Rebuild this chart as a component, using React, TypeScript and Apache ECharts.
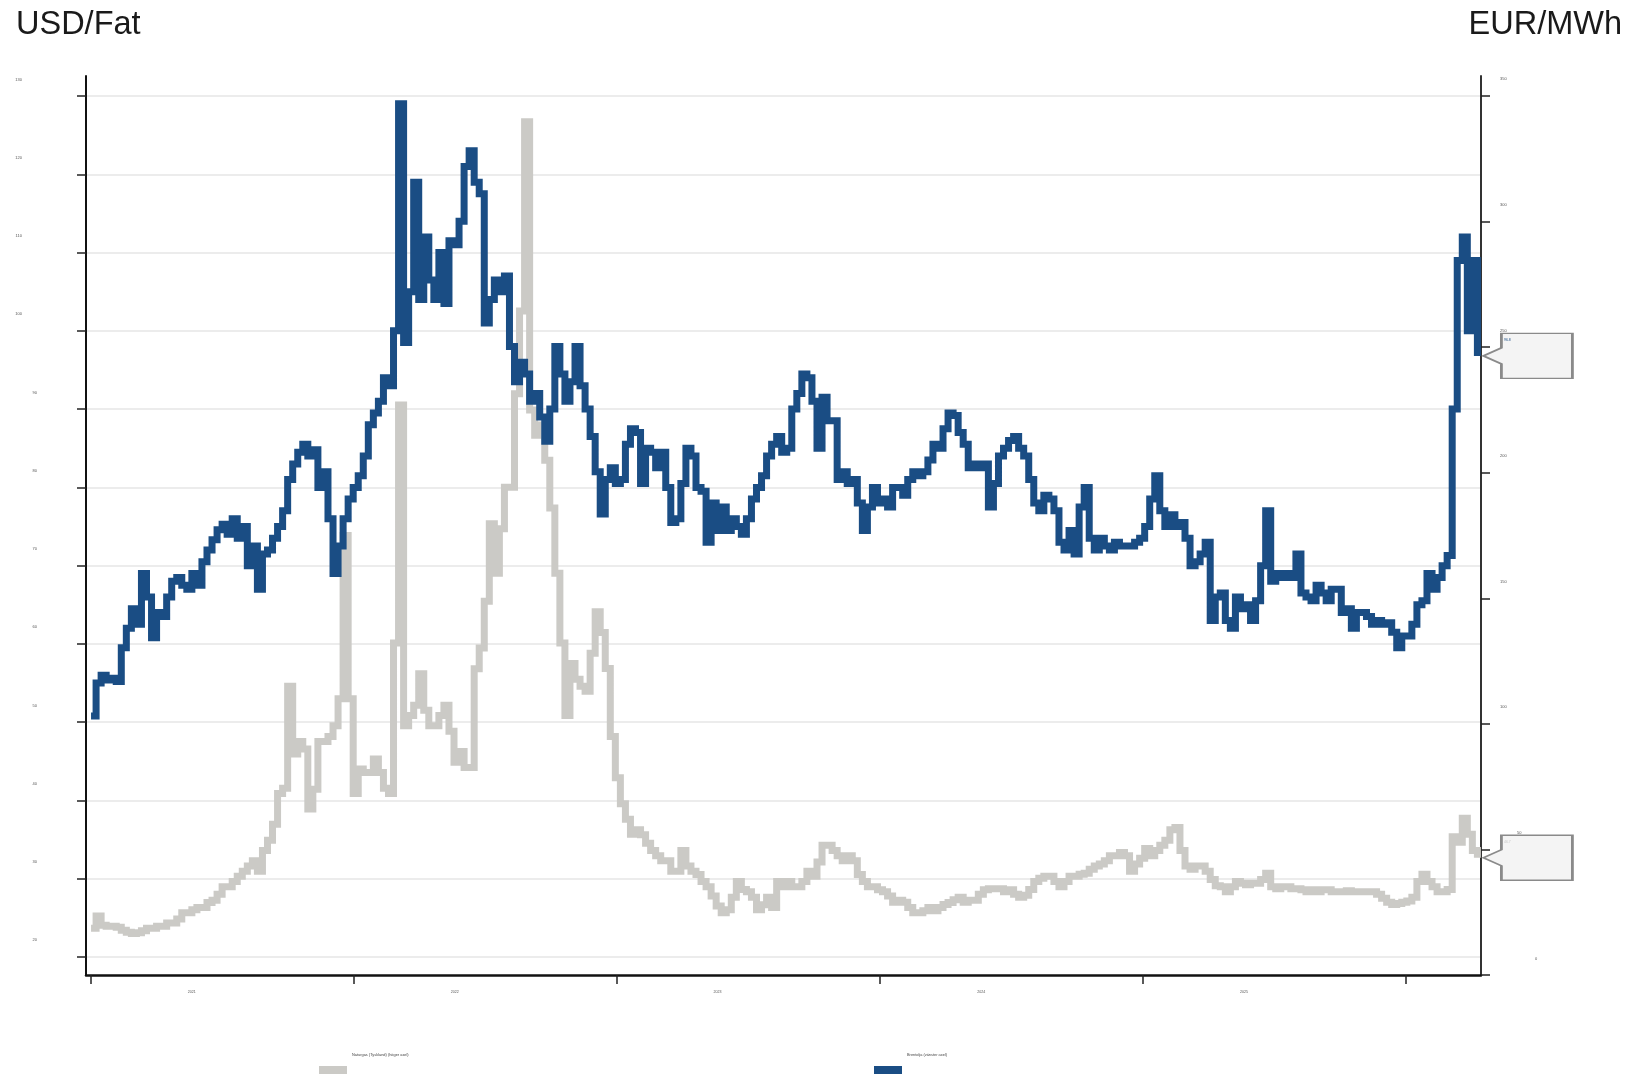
import React, { useEffect, useRef } from "react";
import * as echarts from "echarts";

// ---------- DATA ----------
const START_DATE = "2021-01-01"; // first weekly observation
const STEP_DAYS = 7; // weekly observations

const GAS_NAME = "Naturgas (Tyskland) (höger axel)";
const BRENT_NAME = "Brentolja (vänster axel)";

// Brent, USD per barrel (left axis), weekly
const brentValues = [
  50.8, 55.0, 56.0, 55.4, 55.6, 55.2, 59.5, 62.0, 64.5, 62.5,
  69.0, 66.0, 60.8, 64.0, 63.5, 66.0, 68.0, 68.5, 67.5, 67.0,
  69.0, 67.5, 70.5, 72.0, 73.3, 74.6, 75.3, 74.0, 76.0, 73.5,
  75.0, 70.0, 72.5, 67.0, 71.5, 72.0, 73.5, 75.0, 77.0, 81.0,
  83.0, 84.5, 85.5, 84.0, 84.8, 80.0, 82.0, 76.0, 69.0, 72.5,
  76.0, 78.5, 80.0, 81.5, 84.0, 88.0, 89.5, 91.0, 94.0, 93.0,
  100.0, 129.0, 98.5, 105.0, 119.0, 104.0, 112.0, 106.5, 104.0, 110.0,
  103.5, 111.5, 111.0, 114.0, 121.0, 123.0, 119.0, 117.5, 101.0, 104.0,
  106.5, 105.0, 107.0, 98.0, 93.5, 96.0, 94.5, 91.0, 92.0, 89.0,
  85.9, 90.0, 98.0, 94.5, 91.0, 93.5, 98.0, 93.0, 90.0, 86.5,
  82.0, 76.6, 81.0, 82.5, 80.5, 81.0, 85.5, 87.5, 87.0, 80.5,
  85.0, 84.5, 82.5, 84.5, 80.0, 75.5, 76.0, 80.5, 85.0, 84.0,
  80.0, 79.5, 73.0, 78.0, 74.5, 77.5, 74.5, 76.0, 75.0, 74.0,
  76.0, 78.5, 80.0, 81.5, 84.0, 85.5, 86.5, 84.5, 85.0, 90.0,
  92.0, 94.5, 94.0, 91.0, 85.0, 91.5, 88.5, 88.5, 81.0, 82.0,
  80.5, 81.0, 78.0, 74.5, 77.5, 80.0, 78.0, 78.5, 77.5, 80.0,
  80.0, 79.0, 81.0, 82.0, 81.5, 82.0, 83.5, 85.5, 85.0, 87.5,
  89.5, 89.2, 87.0, 85.5, 82.5, 83.0, 82.5, 83.0, 77.5, 80.5,
  84.0, 85.0, 86.0, 86.5, 85.0, 84.0, 81.0, 78.0, 77.0, 79.0,
  78.5, 77.0, 73.0, 72.0, 74.5, 71.5, 77.5, 80.0, 73.5, 72.0,
  73.5, 72.5, 72.0, 73.0, 72.5, 72.5, 72.5, 73.0, 73.5, 75.0,
  78.5, 81.5, 77.0, 75.0, 76.5, 75.0, 75.5, 73.5, 70.0, 70.5,
  71.5, 73.0, 63.0, 66.0, 66.5, 63.0, 62.0, 66.0, 64.5, 65.0,
  63.0, 65.5, 70.0, 77.0, 68.0, 69.0, 68.5, 69.0, 68.5, 71.5,
  66.5, 66.0, 65.5, 67.5, 66.5, 65.5, 67.0, 67.0, 64.0, 64.5,
  62.0, 64.0, 64.0, 63.5, 62.5, 63.0, 62.5, 62.7, 61.5, 59.5,
  61.0, 61.0, 62.5, 65.0, 65.5, 69.0, 67.0, 68.5, 70.0, 71.3,
  90.0, 109.0, 112.0, 100.0, 109.0, 96.8,
];

// Natural gas (Germany), EUR per MWh (right axis), weekly
const gasValues = [
  18.6, 23.5, 19.8, 19.4, 19.4, 19.0, 17.8, 17.0, 16.5, 16.8,
  17.6, 18.6, 18.6, 19.4, 19.4, 20.7, 20.7, 22.3, 24.8, 24.8,
  26.0, 26.9, 26.9, 28.9, 29.8, 32.2, 35.1, 35.1, 37.2, 39.3,
  41.3, 43.4, 45.5, 41.3, 49.6, 53.7, 60.0, 72.3, 74.4, 115.0,
  88.0, 93.0, 90.0, 66.1, 74.0, 93.0, 93.0, 95.0, 99.2, 110.0,
  175.0, 110.0, 72.3, 82.0, 80.6, 80.6, 86.0, 80.6, 74.4, 72.3,
  132.2, 227.0, 99.2, 103.3, 107.4, 120.0, 105.4, 99.2, 99.2, 103.3,
  107.4, 97.1, 84.7, 89.0, 82.6, 82.6, 121.9, 130.2, 148.8, 179.7,
  160.0, 177.7, 194.2, 194.2, 231.4, 264.4, 339.7, 225.0, 214.9, 219.0,
  205.0, 185.9, 160.0, 132.2, 103.3, 124.0, 117.8, 115.0, 113.0, 128.1,
  144.6, 136.4, 122.0, 95.0, 78.5, 68.2, 62.0, 56.0, 57.8, 55.8,
  52.5, 49.6, 47.5, 45.5, 45.5, 41.3, 41.3, 49.6, 43.4, 41.3,
  40.0, 37.2, 35.1, 31.5, 27.5, 24.8, 26.0, 31.0, 37.2, 34.0,
  33.1, 31.0, 26.0, 28.0, 31.0, 26.9, 37.2, 35.1, 37.2, 35.1,
  35.1, 37.2, 41.3, 39.3, 45.0, 51.7, 51.7, 49.6, 47.5, 45.5,
  47.5, 45.5, 40.0, 37.2, 35.1, 35.1, 33.9, 33.1, 31.5, 29.0,
  29.8, 29.0, 26.9, 24.8, 24.8, 25.6, 26.9, 25.6, 26.9, 28.1,
  28.9, 30.0, 31.0, 29.0, 29.8, 29.8, 32.2, 33.9, 34.3, 34.3,
  34.3, 33.1, 33.9, 32.2, 31.0, 31.8, 34.0, 37.2, 38.5, 39.3,
  39.3, 37.2, 35.1, 37.2, 39.3, 39.3, 40.1, 40.5, 42.1, 43.4,
  44.2, 45.5, 47.5, 47.5, 48.8, 47.5, 41.3, 44.2, 46.5, 50.4,
  47.5, 49.6, 51.7, 53.7, 57.8, 58.7, 49.6, 43.4, 42.1, 43.4,
  43.4, 41.3, 38.0, 35.5, 35.1, 33.1, 35.1, 37.2, 36.5, 35.9,
  36.5, 36.5, 38.0, 40.5, 35.1, 34.3, 35.1, 35.1, 34.3, 34.3,
  33.9, 33.1, 33.9, 33.1, 33.9, 33.9, 33.1, 33.1, 33.1, 33.5,
  33.1, 33.1, 33.1, 33.1, 33.1, 32.2, 30.6, 29.0, 28.1, 28.5,
  29.0, 29.5, 31.0, 37.2, 40.1, 37.2, 35.1, 33.1, 33.1, 34.0,
  55.0, 52.9, 62.4, 56.0, 49.6, 46.7,
];

// Axis ticks
const leftTickValues = [20, 30, 40, 50, 60, 70, 80, 90, 100, 110, 120, 130];
const rightTickValues = [0, 50, 100, 150, 200, 250, 300, 350];
const yearTickDates = ["2021-01-01", "2022-01-01", "2023-01-01", "2024-01-01", "2025-01-01", "2026-01-01"];
const yearLabelDates = ["2021-05-21", "2022-05-21", "2023-05-21", "2024-05-21", "2025-05-21"];
const X_MIN = "2020-12-25";
const X_MAX = "2026-04-15";
const LEFT_MIN = 17.7;
const LEFT_MAX = 132.56;
const RIGHT_MIN = 0;
const RIGHT_MAX = 357.96;

// ---------- STYLE ----------
const BLUE = "#1a4d84";
const GRAY = "#cbcac6";
const FONT = "'Liberation Sans', Arial, Helvetica, sans-serif";
const CALLOUT = "path://M0,22.5 L18,14.5 L18,0 L89,0 L89,45 L18,45 L18,30.5 Z";

const toTs = (s: string) => {
  const [y, m, d] = s.split("-").map(Number);
  return Date.UTC(y, m - 1, d);
};

export default function App() {
  const ref = useRef<HTMLDivElement>(null);

  useEffect(() => {
    document.body.style.margin = "0";
    if (!ref.current) return;
    const chart = echarts.init(ref.current, undefined, { renderer: "svg" });

    const start = toTs(START_DATE);
    const dayMs = 86400000;
    const dateAt = (i: number) => start + i * STEP_DAYS * dayMs;
    const brent = brentValues.map((v, i) => [dateAt(i), v]);
    const gas = gasValues.map((v, i) => [dateAt(i), v]);
    const lastB = brent[brent.length - 1];
    const lastG = gas[gas.length - 1];

    const calloutBase = (color: string) => ({
      symbol: CALLOUT,
      symbolSize: [89, 45],
      symbolOffset: [50.5, 0],
      symbolKeepAspect: false,
      silent: true,
      itemStyle: { color: "#f4f4f4", borderColor: "#8a8a8a", borderWidth: 2 },
      label: {
        show: true,
        position: [22, 5],
        fontSize: 3.5,
        color,
        formatter: (p: any) => Number(p.value).toFixed(1),
      },
    });

    const legendBase = {
      top: 1052,
      padding: 0,
      icon: "rect",
      itemWidth: 28,
      itemHeight: 8,
      itemGap: 0,
      selectedMode: false,
      formatter: (name: string) => `{t|${name}}`,
      textStyle: {
        rich: { t: { fontSize: 3.9, color: "#444", padding: [0, 0, 32, 0] } },
      },
    };

    const option: any = {
      animation: false,
      textStyle: { fontFamily: FONT },
      title: [
        {
          text: "USD/Fat",
          left: 16,
          top: 6,
          padding: 0,
          textStyle: { fontSize: 32.5, fontWeight: "normal", color: "#1a1a1a", fontFamily: FONT },
        },
        {
          text: "EUR/MWh",
          right: 3,
          top: 6,
          padding: 0,
          textStyle: { fontSize: 32.5, fontWeight: "normal", color: "#1a1a1a", fontFamily: FONT },
        },
      ],
      legend: [
        { ...legendBase, data: [GAS_NAME], left: 319 },
        { ...legendBase, data: [BRENT_NAME], left: 874 },
      ],
      grid: { left: 86, right: 144, top: 76, bottom: 101, containLabel: false },
      xAxis: {
        type: "value",
        min: toTs(X_MIN),
        max: toTs(X_MAX),
        axisLine: { show: true, lineStyle: { color: "#111", width: 2.5 } },
        axisTick: {
          show: true,
          length: 9,
          customValues: yearTickDates.map(toTs),
          lineStyle: { color: "#222", width: 1.5 },
        },
        axisLabel: {
          customValues: yearLabelDates.map(toTs),
          formatter: (v: number) => String(new Date(v).getUTCFullYear()),
          fontSize: 3.6,
          color: "#555",
          margin: 15,
        },
        splitLine: { show: false },
        minorTick: { show: false },
      },
      yAxis: [
        {
          type: "value",
          position: "left",
          min: LEFT_MIN,
          max: LEFT_MAX,
          axisLine: { show: true, lineStyle: { color: "#111", width: 2 } },
          axisTick: {
            show: true,
            length: 9,
            customValues: leftTickValues,
            lineStyle: { color: "#222", width: 1.5 },
          },
          axisLabel: {
            customValues: leftTickValues,
            margin: 49,
            formatter: (v: number) => (v >= 100 ? `{w|${v}}` : `{n|${v}}`),
            rich: {
              w: { fontSize: 4, color: "#555", padding: [0, 15, 34, 0] },
              n: { fontSize: 4, color: "#555", padding: [0, 0, 34, 0] },
            },
          },
          splitLine: { show: true, lineStyle: { color: "#e6e6e6", width: 1.5 } },
        },
        {
          type: "value",
          position: "right",
          min: RIGHT_MIN,
          max: RIGHT_MAX,
          axisLine: { show: true, lineStyle: { color: "#333", width: 2 } },
          axisTick: {
            show: true,
            length: 9,
            customValues: rightTickValues,
            lineStyle: { color: "#222", width: 1.5 },
          },
          axisLabel: {
            customValues: rightTickValues,
            margin: 19,
            formatter: (v: number) => (v === 0 ? `{z|${v}}` : v === 50 ? `{f|${v}}` : `{h|${v}}`),
            rich: {
              h: { fontSize: 4, color: "#555", padding: [0, 0, 34, 0] },
              f: { fontSize: 4, color: "#555", padding: [0, 0, 34, 17] },
              z: { fontSize: 4, color: "#555", padding: [0, 0, 34, 35] },
            },
          },
          splitLine: { show: false },
        },
      ],
      series: [
        {
          name: GAS_NAME,
          type: "line",
          yAxisIndex: 1,
          data: gas,
          step: "end",
          symbol: "none",
          showSymbol: false,
          z: 2,
          itemStyle: { color: GRAY },
          lineStyle: { color: GRAY, width: 7, join: "miter" },
          markPoint: {
            ...calloutBase("#c8c8c8"),
            data: [{ coord: lastG, value: lastG[1] }],
          },
        },
        {
          name: BRENT_NAME,
          type: "line",
          yAxisIndex: 0,
          data: brent,
          step: "end",
          symbol: "none",
          showSymbol: false,
          z: 3,
          itemStyle: { color: BLUE },
          lineStyle: { color: BLUE, width: 7, join: "miter" },
          markPoint: {
            ...calloutBase(BLUE),
            data: [{ coord: lastB, value: lastB[1] }],
          },
        },
      ],
    };

    chart.setOption(option);
    return () => chart.dispose();
  }, []);

  return (
    <div
      ref={ref}
      style={{ position: "fixed", left: 0, top: 0, width: 1625, height: 1076 }}
    />
  );
}
